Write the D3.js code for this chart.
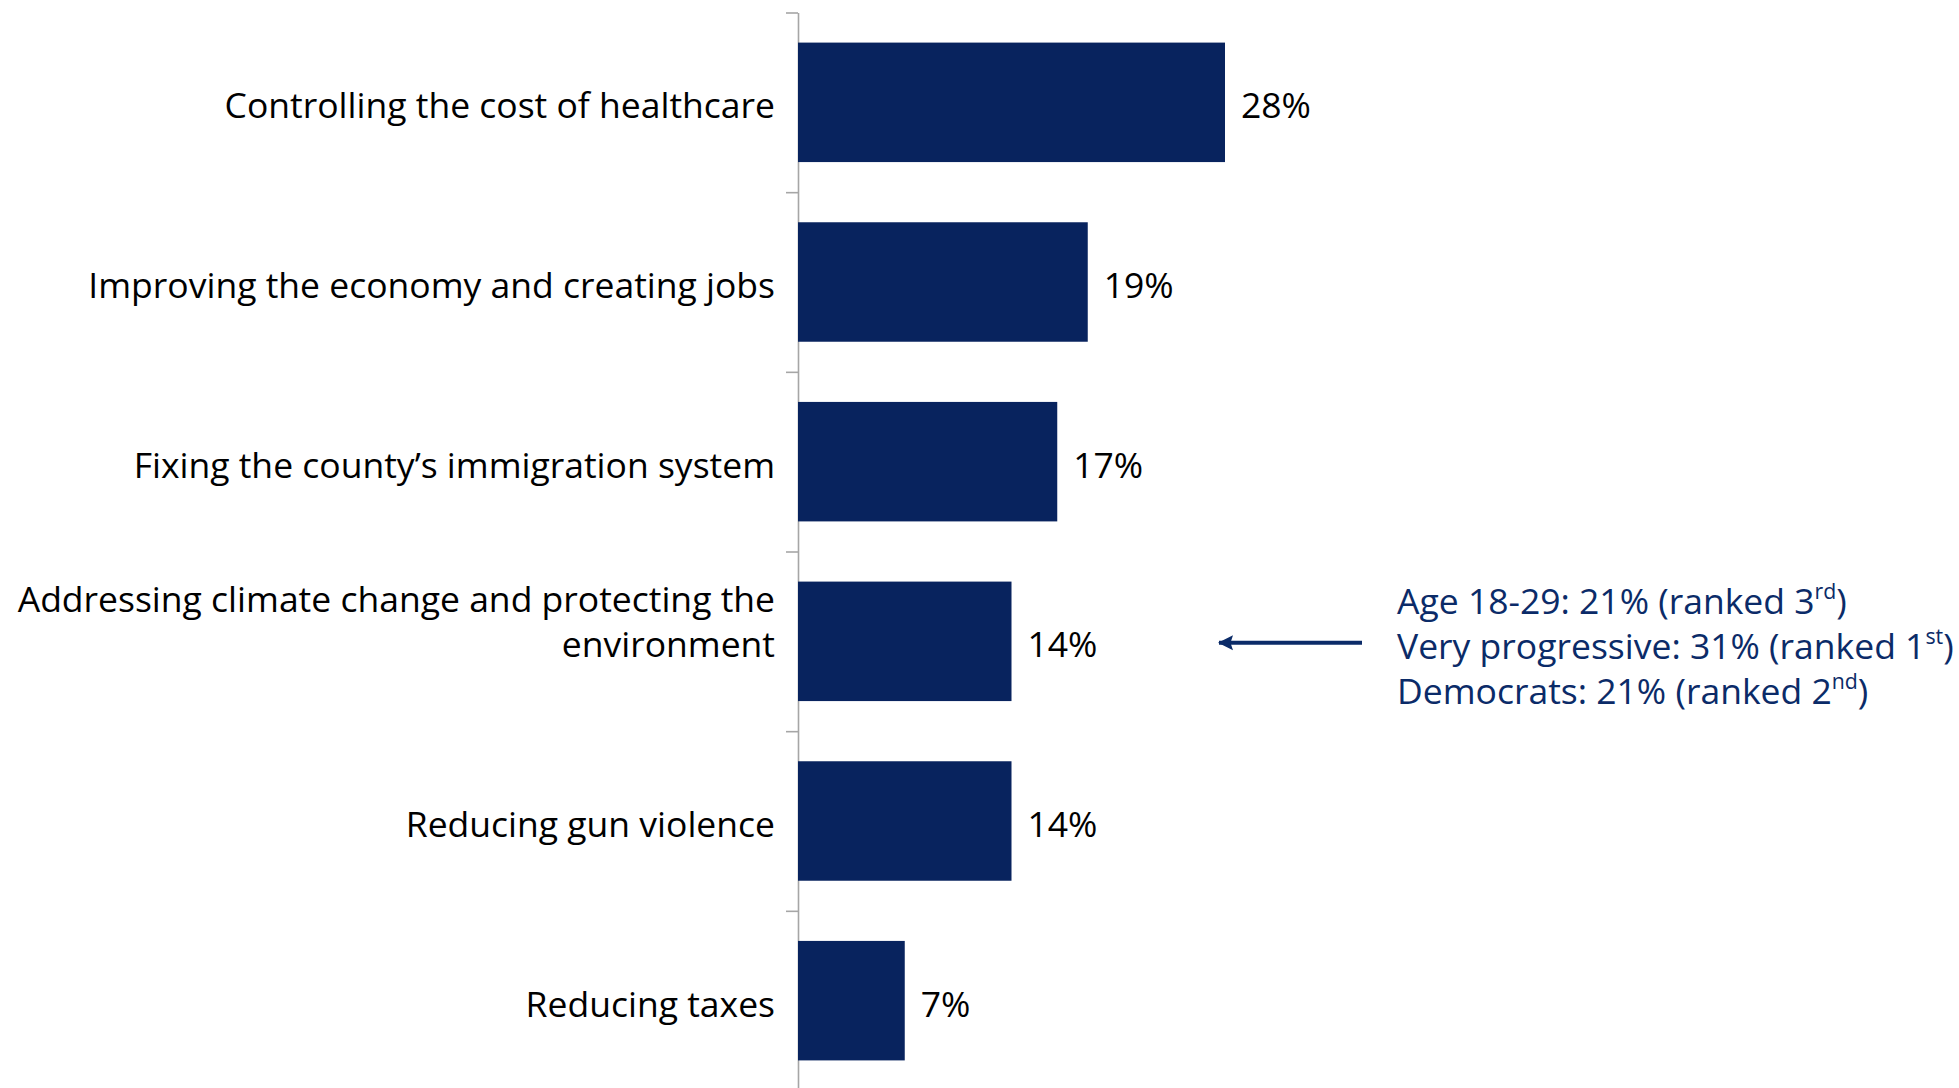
<!DOCTYPE html>
<html>
<head>
<meta charset="utf-8">
<script src="https://cdn.jsdelivr.net/npm/d3@7"></script>
<style>
  html, body { margin: 0; padding: 0; background: #ffffff; }
  svg { display: block; }
  text { font-family: "Open Sans", "Noto Sans", sans-serif; }
</style>
</head>
<body>
<script>
// Top issues: share of respondents naming each as their priority
const categories = [
  ["Controlling the cost of healthcare"],
  ["Improving the economy and creating jobs"],
  ["Fixing the county\u2019s immigration system"],
  ["Addressing climate change and protecting the", "environment"],
  ["Reducing gun violence"],
  ["Reducing taxes"]
];
const values = [28, 19, 17, 14, 14, 7];
const valueLabels = ["28%", "19%", "17%", "14%", "14%", "7%"];

// Subgroup callout for the climate item
const calloutIndex = 3;
const calloutLines = [
  { text: "Age 18-29: 21% (ranked 3", sup: "rd", tail: ")" },
  { text: "Very progressive: 31% (ranked 1", sup: "st", tail: ")" },
  { text: "Democrats: 21% (ranked 2", sup: "nd", tail: ")" }
];

const W = 1959, H = 1088;
const barColor = "#08235e";
const noteColor = "#0b2b68";
const fontSize = 35.5;

const svg = d3.select("body").append("svg")
  .attr("width", W).attr("height", H);

const axisX = 798, plotTop = 12.5, plotBottom = 1090.5;

const y = d3.scaleBand()
  .domain(d3.range(categories.length))
  .range([plotTop, plotBottom])
  .paddingInner(0.335)
  .paddingOuter(0.1675);

const x = d3.scaleLinear().domain([0, 40]).range([axisX, axisX + 610]);

// Category axis: ticks sit on the band boundaries
const boundary = d3.scaleLinear().domain([0, categories.length]).range([plotTop, plotBottom]);
const axis = svg.append("g")
  .attr("transform", `translate(${axisX},0)`)
  .call(d3.axisLeft(boundary)
    .tickValues(d3.range(categories.length + 1))
    .tickSize(12)
    .tickSizeOuter(0)
    .tickFormat(""));
axis.select(".domain").attr("stroke", "#a6a6a6").attr("stroke-width", 1.6);
axis.selectAll(".tick line").attr("stroke", "#a6a6a6").attr("stroke-width", 1.6);

// Bars
svg.append("g").selectAll("rect")
  .data(values)
  .join("rect")
  .attr("x", x(0))
  .attr("y", (d, i) => y(i))
  .attr("width", d => x(d) - x(0))
  .attr("height", y.bandwidth())
  .attr("fill", barColor);

// Value labels
svg.append("g").selectAll("text")
  .data(values)
  .join("text")
  .attr("x", d => x(d) + 16)
  .attr("y", (d, i) => y(i) + y.bandwidth() / 2 + 2)
  .attr("dominant-baseline", "central")
  .attr("font-size", fontSize)
  .attr("fill", "#000")
  .text((d, i) => valueLabels[i]);

// Category labels, right aligned against the axis
const lineGap = 45;
svg.append("g").selectAll("text")
  .data(categories)
  .join("text")
  .attr("text-anchor", "end")
  .attr("font-size", fontSize)
  .attr("fill", "#000")
  .each(function (lines, i) {
    const cy = y(i) + y.bandwidth() / 2 + 2;
    d3.select(this).selectAll("tspan")
      .data(lines)
      .join("tspan")
      .attr("x", axisX - 23)
      .attr("y", (l, j) => cy - (lines.length - 1 - j) * lineGap)
      .attr("dominant-baseline", "central")
      .text(l => l);
  });

// Callout arrow pointing back at the climate bar
const cyNote = y(calloutIndex) + y.bandwidth() / 2 + 1.5;
svg.append("defs").append("marker")
  .attr("id", "head")
  .attr("markerUnits", "userSpaceOnUse")
  .attr("viewBox", "0 0 16 16")
  .attr("refX", 14).attr("refY", 8)
  .attr("markerWidth", 16).attr("markerHeight", 16)
  .attr("orient", "auto")
  .append("path")
  .attr("d", "M15,8 L0,0.5 L2.5,8 L0,15.5 Z")
  .attr("fill", noteColor);

svg.append("line")
  .attr("x1", 1362).attr("x2", 1219)
  .attr("y1", cyNote).attr("y2", cyNote)
  .attr("stroke", noteColor)
  .attr("stroke-width", 4)
  .attr("marker-end", "url(#head)");

// Callout text with ordinal superscripts
const note = svg.append("g");
calloutLines.forEach((c, j) => {
  const t = note.append("text")
    .attr("x", 1397)
    .attr("y", cyNote + (j - 1) * lineGap + 2)
    .attr("dominant-baseline", "central")
    .attr("font-size", fontSize)
    .attr("fill", noteColor);
  t.append("tspan").text(c.text);
  t.append("tspan").attr("font-size", fontSize * 0.6).attr("dy", -10).text(c.sup);
  t.append("tspan").attr("dy", 10).text(c.tail);
});
</script>
</body>
</html>
